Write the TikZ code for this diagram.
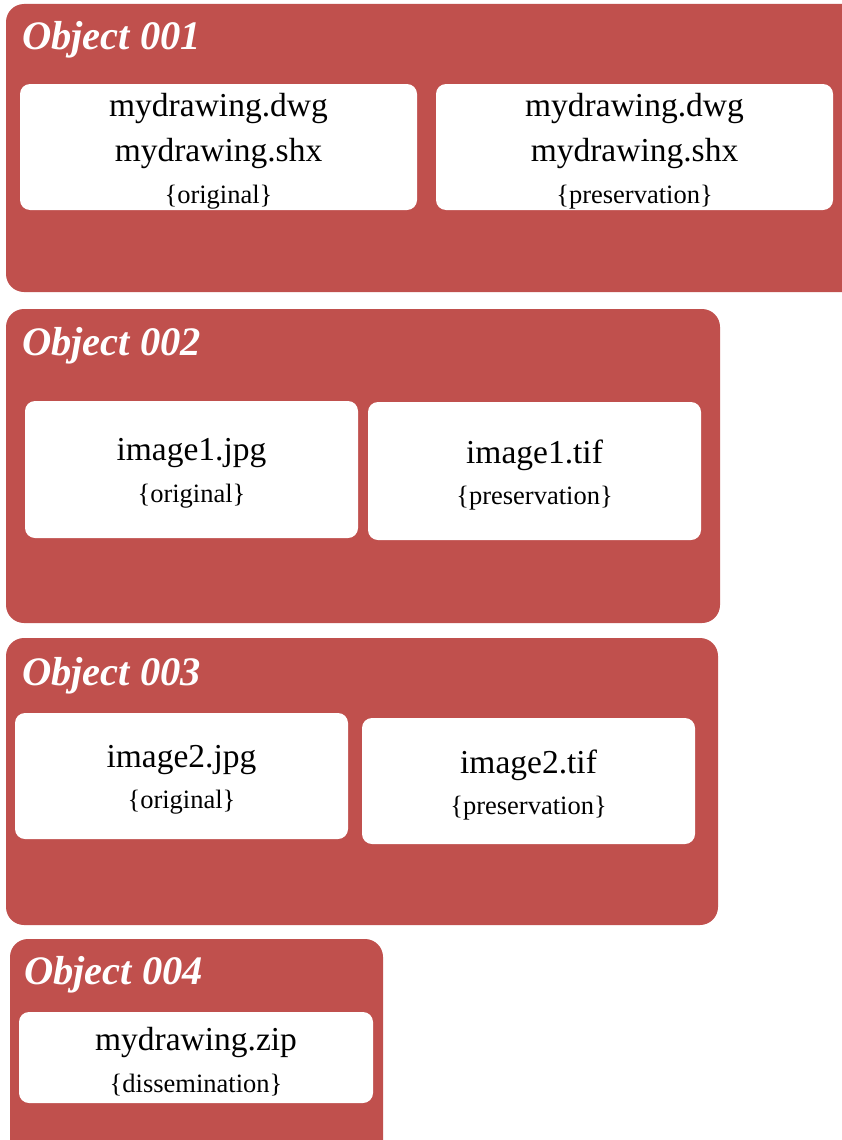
\documentclass[tikz,border=0pt]{standalone}
\usepackage{fontspec}
\setmainfont{Liberation Serif}
\usepackage{xcolor}
\definecolor{objred}{HTML}{C0504D}

\tikzset{
  objbox/.style={fill=objred, draw=none, rounded corners=18pt},
  filebox/.style={fill=white, draw=none, rounded corners=10pt, inner sep=0pt},
  filetext/.style={align=center, inner sep=0pt, yshift=-4pt,
    font=\fontsize{33.5}{45}\selectfont},
  objtitle/.style={anchor=base west, text=white, inner sep=0pt,
    font=\fontsize{40.5}{44}\selectfont\bfseries\itshape},
}
\newcommand{\role}[1]{\\[-3.5pt]{\fontsize{26.5}{38}\selectfont\{#1\}}}
\providecommand{\FileBox}[6]{%
  % name, centre x, centre y, width, height, text
  \node[filebox, minimum width=#4, minimum height=#5] (#1) at (#2,#3) {};
  \node[filetext] (#1 text) at (#1) {#6};
}

\begin{document}
\begin{tikzpicture}[x=1pt, y=-1pt]
  \useasboundingbox (0,0) rectangle (842,1140);
  \clip (0,0) rectangle (842,1140);

  % object 001
  \filldraw[objbox] (6,4) rectangle (880,292);
  \node[objtitle] (title1) at (22,50) {Object 001};
  \FileBox{dwgorig}{218.5}{147}{397}{126}{mydrawing.dwg\\mydrawing.shx\role{original}}
  \FileBox{dwgpres}{634.5}{147}{397}{126}{mydrawing.dwg\\mydrawing.shx\role{preservation}}

  % object 002
  \filldraw[objbox] (6,309) rectangle (720,623);
  \node[objtitle] (title2) at (22,355) {Object 002};
  \FileBox{jpgone}{191.5}{469.5}{333}{137}{image1.jpg\role{original}}
  \FileBox{tifone}{534.5}{471}{333}{138}{image1.tif\role{preservation}}

  % object 003
  \filldraw[objbox] (6,638) rectangle (718,925);
  \node[objtitle] (title3) at (22,685) {Object 003};
  \FileBox{jpgtwo}{181.5}{776}{333}{126}{image2.jpg\role{original}}
  \FileBox{tiftwo}{528.5}{781}{333}{126}{image2.tif\role{preservation}}

  % object 004
  \filldraw[objbox] (10,939) rectangle (383,1180);
  \node[objtitle] (title4) at (24,984) {Object 004};
  \FileBox{zip}{196}{1057.5}{354}{91}{mydrawing.zip\role{dissemination}}

\end{tikzpicture}
\end{document}
